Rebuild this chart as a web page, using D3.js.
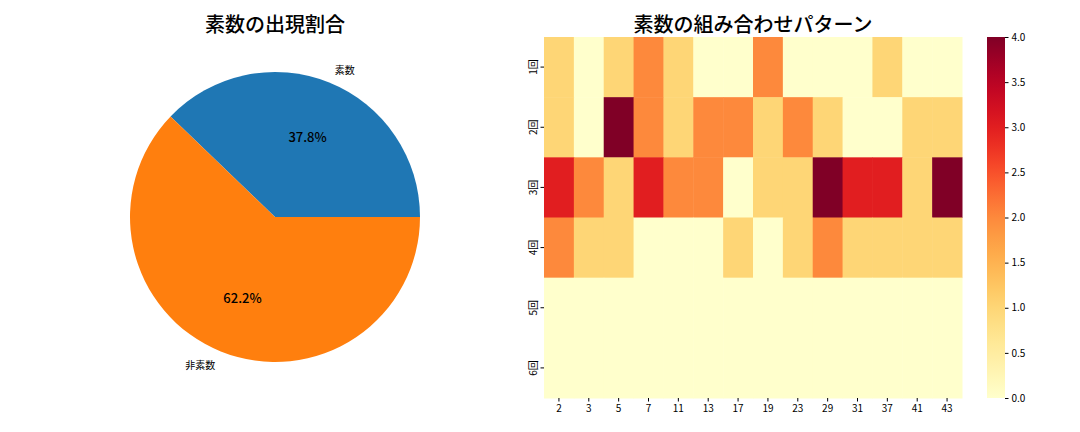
<!DOCTYPE html>
<html><head><meta charset="utf-8">
<script src="https://cdn.jsdelivr.net/npm/d3@7"></script>
<style>body{margin:0;background:#fff}text{font-family:"Noto Sans CJK JP","Noto Sans",sans-serif}</style>
</head><body><svg id="c" width="1080" height="432"></svg>
<script>
const pieLabels = ["素数", "非素数"];
const pieValues = [37.8, 62.2];
const pieColors = ["#1f77b4", "#ff7f0e"];

const primes = ["2","3","5","7","11","13","17","19","23","29","31","37","41","43"];
const rounds = ["1回","2回","3回","4回","5回","6回"];
const counts = [
  [1,0,1,2,1,0,0,2,0,0,0,1,0,0],
  [1,0,4,2,1,2,2,1,2,1,0,0,1,1],
  [3,2,1,3,2,2,0,1,1,4,3,3,1,4],
  [2,1,1,0,0,0,1,0,1,2,1,1,1,1],
  [0,0,0,0,0,0,0,0,0,0,0,0,0,0],
  [0,0,0,0,0,0,0,0,0,0,0,0,0,0]
];
const cbTicks = [0,0.5,1,1.5,2,2.5,3,3.5,4];

const svg = d3.select("#c");

// pie
const cx = 275, cy = 217, r = 145;
const pg = svg.append("g").attr("transform", `translate(${cx},${cy})`);
const total = d3.sum(pieValues);
let a0 = 0;
const slices = pieValues.map((v, i) => {
  const a1 = a0 + v / total * 2 * Math.PI;
  const s = { v, i, a0, a1 };
  a0 = a1;
  return s;
});
// matplotlib: start at 3 o'clock, counter-clockwise
const pt = (ang, rad) => [rad * Math.cos(ang), -rad * Math.sin(ang)];
slices.forEach(s => {
  const [x0, y0] = pt(s.a0, r), [x1, y1] = pt(s.a1, r);
  const large = s.a1 - s.a0 > Math.PI ? 1 : 0;
  pg.append("path")
    .attr("d", `M0,0L${x0},${y0}A${r},${r} 0 ${large} 0 ${x1},${y1}Z`)
    .attr("fill", pieColors[s.i]);
  const mid = (s.a0 + s.a1) / 2;
  const [tx, ty] = pt(mid, r * 0.6);
  pg.append("text").attr("x", tx).attr("y", ty).attr("text-anchor", "middle")
    .attr("dominant-baseline", "central").attr("font-size", 13).attr("font-weight", 500)
    .text(s.v.toFixed(1) + "%");
  const [lx, ly] = pt(mid, r * 1.1);
  pg.append("text").attr("x", lx).attr("y", ly)
    .attr("text-anchor", Math.cos(mid) >= 0 ? "start" : "end")
    .attr("dominant-baseline", "central").attr("font-size", 10).text(pieLabels[s.i]);
});
svg.append("text").attr("x", cx).attr("y", 32).attr("text-anchor", "middle")
  .attr("font-size", 20).attr("font-weight", 500).text("素数の出現割合");

// heatmap
const x = d3.scaleBand().domain(primes).range([544, 962]);
const y = d3.scaleBand().domain(rounds).range([37, 398]);
const color = d3.scaleSequential(d3.interpolateYlOrRd).domain([0, 4]);
const hg = svg.append("g");
counts.forEach((row, ri) => row.forEach((v, ci) => {
  hg.append("rect").attr("x", x(primes[ci])).attr("y", y(rounds[ri]))
    .attr("width", x.bandwidth() + 0.5).attr("height", y.bandwidth() + 0.5)
    .attr("fill", color(v));
}));
const xa = svg.append("g").attr("transform", "translate(0,398)")
  .call(d3.axisBottom(x).tickSize(3.5));
xa.select(".domain").remove();
xa.selectAll("text").attr("font-size", 10).attr("fill", "#000");
const ya = svg.append("g").attr("transform", "translate(544,0)")
  .call(d3.axisLeft(y).tickSize(3.5).tickFormat(""));
ya.select(".domain").remove();
rounds.forEach(d => {
  svg.append("text")
    .attr("transform", `translate(532,${y(d) + y.bandwidth() / 2}) rotate(-90)`)
    .attr("text-anchor", "middle").attr("dominant-baseline", "central")
    .attr("font-size", 10).text(d);
});
svg.append("text").attr("x", 753).attr("y", 32).attr("text-anchor", "middle")
  .attr("font-size", 20).attr("font-weight", 500).text("素数の組み合わせパターン");

// colorbar
const cbx = 987, cbw = 18;
const cy2 = d3.scaleLinear().domain([0, 4]).range([398, 37]);
const defs = svg.append("defs");
const grad = defs.append("linearGradient").attr("id", "g").attr("x1", 0).attr("y1", 1).attr("x2", 0).attr("y2", 0);
d3.range(0, 1.001, 0.05).forEach(t => grad.append("stop").attr("offset", t).attr("stop-color", d3.interpolateYlOrRd(t)));
svg.append("rect").attr("x", cbx).attr("y", 37).attr("width", cbw).attr("height", 361).attr("fill", "url(#g)");
const ca = svg.append("g").attr("transform", `translate(${cbx + cbw},0)`)
  .call(d3.axisRight(cy2).tickValues(cbTicks).tickFormat(d3.format(".1f")).tickSize(3.5));
ca.select(".domain").remove();
ca.selectAll("text").attr("font-size", 10).attr("fill", "#000");
</script></body></html>
